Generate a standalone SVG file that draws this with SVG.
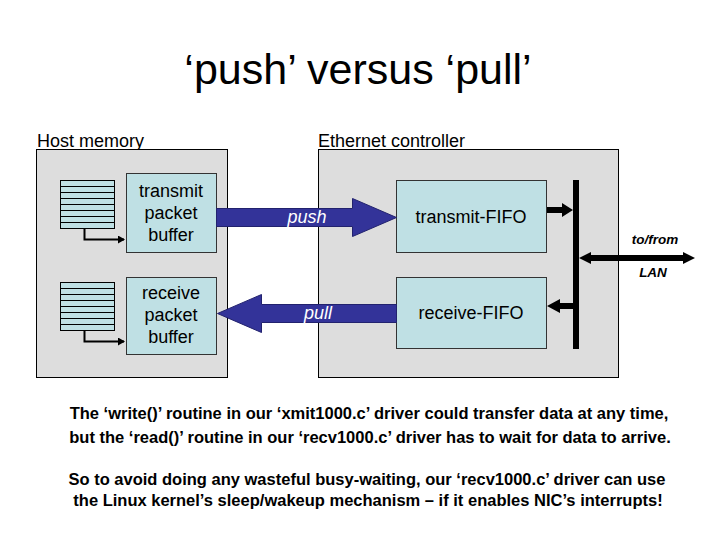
<svg xmlns="http://www.w3.org/2000/svg" width="720" height="540" viewBox="0 0 720 540">
<defs>
<style>
.t{font-family:"Liberation Sans",Arial,sans-serif;fill:#000}
.panel{fill:#dddddd;stroke:#000;stroke-width:1}
.box{fill:#bfe0e4;stroke:#333;stroke-width:1}
.row{fill:#bfe0e4;stroke:#000;stroke-width:1}
.big{fill:#333399;stroke:#22226e;stroke-width:1}
.blk{fill:none;stroke:#000;stroke-width:2}
</style>
<marker id="ah" markerWidth="8" markerHeight="8" refX="6" refY="4" orient="auto" markerUnits="userSpaceOnUse">
<path d="M0,0 L7,4 L0,8 Z" fill="#000"/>
</marker>
</defs>
<rect width="720" height="540" fill="#fff"/>
<text class="t" x="358" y="84" font-size="43" text-anchor="middle">‘push’ versus ‘pull’</text>
<text class="t" x="37" y="147" font-size="18">Host memory</text>
<text class="t" x="318" y="147" font-size="18">Ethernet controller</text>

<g id="host-memory"><rect class="panel" x="36.5" y="149.5" width="191" height="228"/></g>
<g id="ethernet-controller"><rect class="panel" x="318.5" y="149.5" width="300" height="228"/></g>

<g id="tx-ring">
<rect class="row" x="60.5" y="180.5" width="54" height="48"/>
<path d="M60.5,186.5H114.5M60.5,192.5H114.5M60.5,198.5H114.5M60.5,204.5H114.5M60.5,210.5H114.5M60.5,216.5H114.5M60.5,222.5H114.5" stroke="#000" stroke-width="1"/>
</g>
<g id="rx-ring">
<rect class="row" x="60.5" y="282.5" width="54" height="48"/>
<path d="M60.5,288.5H114.5M60.5,294.5H114.5M60.5,300.5H114.5M60.5,306.5H114.5M60.5,312.5H114.5M60.5,318.5H114.5M60.5,324.5H114.5" stroke="#000" stroke-width="1"/>
</g>

<g id="transmit-packet-buffer">
<rect class="box" x="126.5" y="173.5" width="90" height="79"/>
<text class="t" font-size="18" text-anchor="middle"><tspan x="171" y="197">transmit</tspan><tspan x="171" y="219">packet</tspan><tspan x="171" y="241">buffer</tspan></text>
</g>
<g id="receive-packet-buffer">
<rect class="box" x="126.5" y="277.5" width="90" height="77"/>
<text class="t" font-size="18" text-anchor="middle"><tspan x="171" y="299">receive</tspan><tspan x="171" y="321">packet</tspan><tspan x="171" y="343">buffer</tspan></text>
</g>
<g id="transmit-fifo">
<rect class="box" x="396.5" y="180.5" width="150" height="72"/>
<text class="t" x="471" y="223" font-size="18" text-anchor="middle">transmit-FIFO</text>
</g>
<g id="receive-fifo">
<rect class="box" x="396.5" y="277.5" width="150" height="71"/>
<text class="t" x="471" y="319" font-size="18" text-anchor="middle">receive-FIFO</text>
</g>
<g id="lan-label">
<text class="t" x="655" y="244" font-size="13.5" font-weight="bold" font-style="italic" text-anchor="middle">to/from</text>
<text class="t" x="653" y="277" font-size="13.5" font-weight="bold" font-style="italic" text-anchor="middle">LAN</text>
</g>

<g id="connectors">
<path class="blk" d="M84.5,228.5V239.5H124" marker-end="url(#ah)"/>
<path class="blk" d="M84.5,330.5V341.5H124" marker-end="url(#ah)"/>
<path class="big" d="M216.5,208.5H352.5V198.5L396.5,217.5L352.5,236.5V226.5H216.5Z"/>
<text x="307" y="223" font-family="Liberation Sans,Arial,sans-serif" font-size="18" font-style="italic" fill="#fff" text-anchor="middle">push</text>
<path class="big" d="M396.5,304.5H261.5V294.5L217.5,313.5L261.5,332.5V322.5H396.5Z"/>
<text x="318" y="319" font-family="Liberation Sans,Arial,sans-serif" font-size="18" font-style="italic" fill="#fff" text-anchor="middle">pull</text>
<rect x="573" y="180" width="6" height="169" fill="#000"/>
<path d="M547,207H562V203L573,210L562,217V213H547Z" fill="#000"/>
<path d="M573,303H560V299L547,306L560,313V309H573Z" fill="#000"/>
<path d="M579,258L591,252V255H683V252L695,258L683,264V261H591V264Z" fill="#000"/>
</g>

<text class="t" font-size="16.5" font-weight="bold" text-anchor="middle"><tspan x="369" y="419">The ‘write()’ routine in our ‘xmit1000.c’ driver could transfer data at any time,</tspan><tspan x="370" y="443">but the ‘read()’ routine in our ‘recv1000.c’ driver has to wait for data to arrive.</tspan><tspan x="367" y="485">So to avoid doing any wasteful busy-waiting, our ‘recv1000.c’ driver can use</tspan><tspan x="368" y="506">the Linux kernel’s sleep/wakeup mechanism – if it enables NIC’s interrupts!</tspan></text>
</svg>
